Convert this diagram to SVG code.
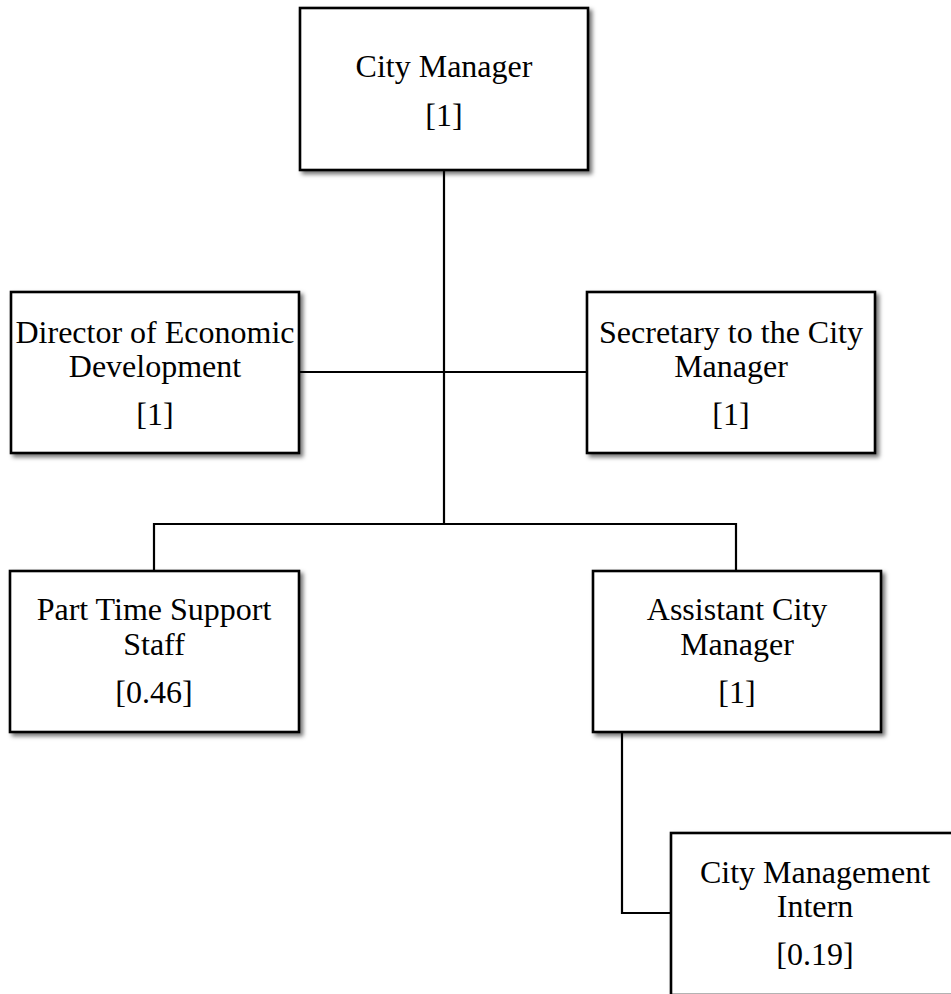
<svg xmlns="http://www.w3.org/2000/svg" width="951" height="994" viewBox="0 0 951 994">
<defs>
<filter id="sh" x="-10%" y="-10%" width="130%" height="130%">
<feDropShadow dx="3" dy="3" stdDeviation="2" flood-color="#000" flood-opacity="0.55"/>
</filter>
<style>
.box{fill:#fff;stroke:#000;stroke-width:2.6;filter:url(#sh)}
.t{font-family:"Liberation Serif","Times New Roman",serif;font-size:32px;fill:#000;text-anchor:middle}
.c{fill:none;stroke:#000;stroke-width:2.2}
</style>
</defs>
<rect width="951" height="994" fill="#fff"/>
<g id="connectors">
<path class="c" d="M444 170V524"/>
<path class="c" d="M299 372H587"/>
<path class="c" d="M154 571V524H736V571"/>
<path class="c" d="M622 732V913H671"/>
</g>
<g id="city-manager">
<rect class="box" x="300" y="8" width="288" height="162"/>
<text class="t" x="444" y="77">City Manager</text>
<text class="t" x="444" y="126">[1]</text>
</g>
<g id="director-economic-development">
<rect class="box" x="11" y="292" width="288" height="161"/>
<text class="t" x="155" y="343">Director of Economic</text>
<text class="t" x="155" y="377">Development</text>
<text class="t" x="155" y="425">[1]</text>
</g>
<g id="secretary">
<rect class="box" x="587" y="292" width="288" height="161"/>
<text class="t" x="731" y="343">Secretary to the City</text>
<text class="t" x="731" y="377">Manager</text>
<text class="t" x="731" y="425">[1]</text>
</g>
<g id="part-time-support-staff">
<rect class="box" x="10" y="571" width="289" height="161"/>
<text class="t" x="154" y="620">Part Time Support</text>
<text class="t" x="154" y="655">Staff</text>
<text class="t" x="154" y="703">[0.46]</text>
</g>
<g id="assistant-city-manager">
<rect class="box" x="593" y="571" width="288" height="161"/>
<text class="t" x="737" y="620">Assistant City</text>
<text class="t" x="737" y="655">Manager</text>
<text class="t" x="737" y="703">[1]</text>
</g>
<g id="city-management-intern">
<rect class="box" x="671" y="833" width="320" height="162"/>
<text class="t" x="815" y="883">City Management</text>
<text class="t" x="815" y="917">Intern</text>
<text class="t" x="815" y="965">[0.19]</text>
</g>
</svg>
